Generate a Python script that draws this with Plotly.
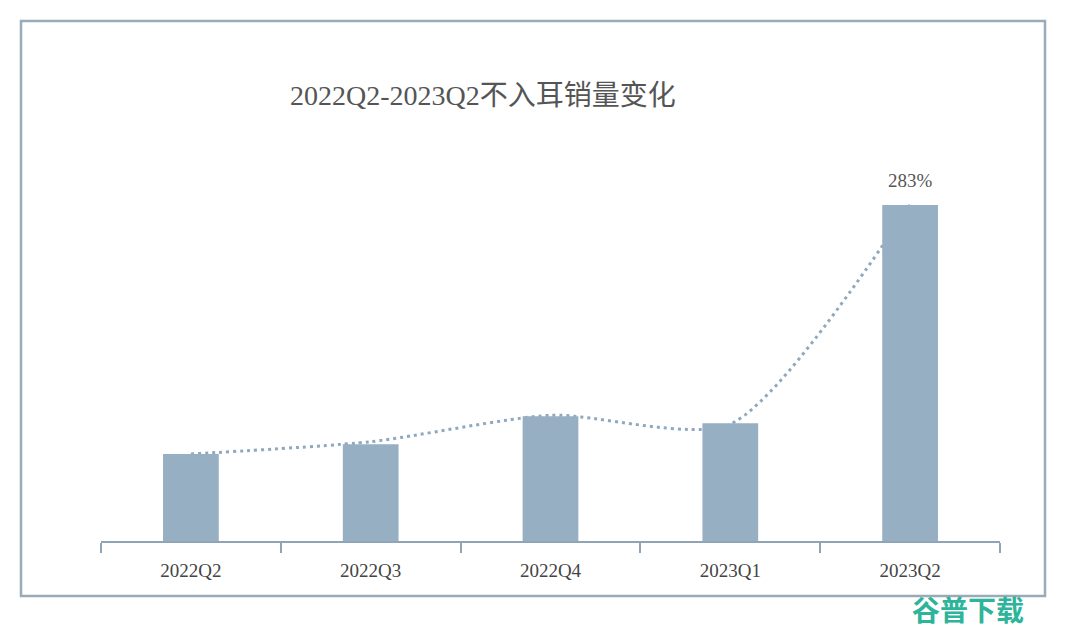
import plotly.graph_objects as go

categories = ["2022Q2", "2022Q3", "2022Q4", "2023Q1", "2023Q2"]
sales_index = [100, 111, 143, 135, 383]
line_values = [100, 114, 144, 134, 383]
growth_label = "283%"
title_text = "2022Q2-2023Q2不入耳销量变化"

bar_color = "#97afc3"
line_color = "#8ea9bf"
axis_color = "#8fa4b6"
frame_color = "#9aabb8"
text_color = "#555555"
serif = "Liberation Serif, 'Noto Sans CJK SC', serif"

# page has an 8px body margin; compensate
OFF = 8
W, H = 1080 - OFF, 632 - OFF
L, T, B = 101 - OFF, 140 - OFF, 90
R = W - (1000 - OFF)

fig = go.Figure()
fig.add_trace(go.Scatter(
    x=categories, y=line_values, mode="lines",
    line=dict(color=line_color, width=3, dash="3px,4px", shape="spline", smoothing=0.7),
    hoverinfo="skip", zorder=0, showlegend=False,
))
fig.add_trace(go.Bar(
    x=categories, y=sales_index, marker=dict(color=bar_color, line=dict(width=0)),
    width=0.31, zorder=1, showlegend=False,
))

fig.add_annotation(
    x=categories[-1], y=sales_index[-1], text=growth_label, showarrow=False,
    yanchor="bottom", yshift=12, font=dict(family=serif, size=19, color=text_color),
)

# axis baseline
fig.add_shape(type="line", xref="paper", yref="paper", x0=0, x1=1, y0=0, y1=0,
              line=dict(color=axis_color, width=2), layer="above")

# outer frame
pw = 1000 - 101
ph = 542 - 140
fig.add_shape(type="rect", xref="paper", yref="paper",
              x0=(21 - 101) / pw, x1=(1045 - 101) / pw,
              y0=(542 - 596) / ph, y1=(542 - 21) / ph,
              line=dict(color=frame_color, width=2.5), layer="below")

fig.add_annotation(
    xref="paper", yref="paper", x=(1026 - 101) / pw, y=(542 - 609) / ph,
    xanchor="right", yanchor="middle",
    text="<b>谷普下载</b>", showarrow=False,
    font=dict(family="'Noto Sans CJK SC', sans-serif", size=28, color="#2db49b"),
)

fig.update_layout(
    width=W, height=H,
    margin=dict(l=L, r=R, t=T, b=B, autoexpand=False),
    paper_bgcolor="white", plot_bgcolor="white",
    title=dict(text=title_text, xref="container", yref="container",
               x=(290 - OFF) / W, xanchor="left", y=1 - (95 - OFF) / H, yanchor="middle",
               font=dict(family=serif, size=28, color=text_color)),
    xaxis=dict(showline=False,
               ticks="outside", tickson="boundaries", ticklen=10, tickwidth=2,
               tickcolor=axis_color, showgrid=False, zeroline=False,
               ticklabelstandoff=15,
               tickfont=dict(family=serif, size=19, color="#444444"),
               range=[-0.5, 4.5]),
    yaxis=dict(visible=False, range=[0, 456.8], showgrid=False, zeroline=False),
    bargap=0.69,
)

fig.write_html("out.html")
